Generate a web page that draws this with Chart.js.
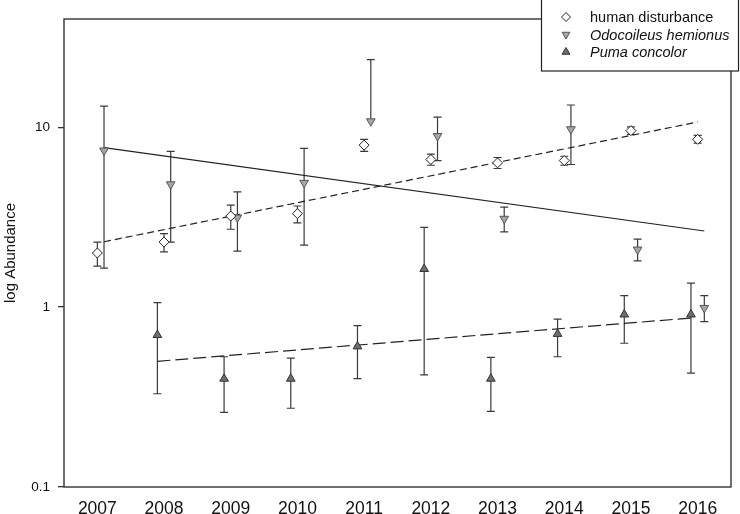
<!DOCTYPE html>
<html lang="en">
<head>
    <meta charset="UTF-8">
    <title>log Abundance</title>
    <script src="https://cdn.jsdelivr.net/npm/chart.js"></script>
    <style>
        body { margin: 0; background: #fff; }
        canvas { display: block; }
    </style>
</head>
<body>
    <canvas id="abundanceChart" width="740" height="514"></canvas>

    <script>
        // values (means with error bars)
        const years = [2007, 2008, 2009, 2010, 2011, 2012, 2013, 2014, 2015, 2016];
        const humanMean = [2.0, 2.3, 3.21, 3.31, 7.96, 6.62, 6.34, 6.53, 9.58, 8.57];
        const humanLow = [1.69, 2.03, 2.71, 2.94, 7.34, 6.15, 5.9, 6.15, 9.14, 8.17];
        const humanHigh = [2.3, 2.56, 3.69, 3.65, 8.57, 7.1, 6.79, 6.9, 10.04, 9.02];

        const deerMean = [7.43, 4.82, 3.15, 4.91, 10.8, 8.94, 3.1, 9.75, 2.09, 0.99];
        const deerLow = [1.65, 2.3, 2.05, 2.21, null, 6.52, 2.62, 6.21, 1.81, 0.83];
        const deerHigh = [13.1, 7.34, 4.37, 7.63, 23.8, 11.4, 3.6, 13.3, 2.39, 1.16];

        const pumaYears = [2008, 2009, 2010, 2011, 2012, 2013, 2014, 2015, 2016];
        const pumaMean = [0.7, 0.4, 0.4, 0.605, 1.63, 0.4, 0.71, 0.91, 0.91];
        const pumaLow = [0.33, 0.26, 0.274, 0.4, 0.42, 0.263, 0.53, 0.63, 0.43];
        const pumaHigh = [1.06, 0.53, 0.52, 0.79, 2.78, 0.525, 0.857, 1.16, 1.36];

        // fitted trend lines (end points)
        const humanTrendX = [2007.1, 2016];
        const humanTrendY = [2.31, 10.7];
        const deerTrendX = [2007.1, 2016.1];
        const deerTrendY = [7.7, 2.65];
        const pumaTrendX = [2007.9, 2015.9];
        const pumaTrendY = [0.5, 0.87];

        const yTicks = [0.1, 1, 10];

        // series are drawn side by side around each year
        const deerShift = 0.1;
        const pumaShift = -0.1;

        const FONT = "Arial, 'Liberation Sans', sans-serif";

        const pts = (xs, ys, shift) => xs.map((x, i) => ({ x: x + shift, y: ys[i] }));

        const errorSets = [
            { xs: years, shift: 0, mean: humanMean, low: humanLow, high: humanHigh },
            { xs: years, shift: deerShift, mean: deerMean, low: deerLow, high: deerHigh },
            { xs: pumaYears, shift: pumaShift, mean: pumaMean, low: pumaLow, high: pumaHigh }
        ];

        // error bars + frame
        const errorBars = {
            id: 'errorBars',
            beforeDatasetsDraw(chart) {
                const ctx = chart.ctx;
                const xs = chart.scales.x, ys = chart.scales.y;
                const a = chart.chartArea;
                ctx.save();
                ctx.strokeStyle = '#333';
                ctx.lineWidth = 1.4;
                ctx.strokeRect(a.left, a.top, a.right - a.left, a.bottom - a.top);

                ctx.strokeStyle = '#3a3a3a';
                ctx.lineWidth = 1.2;
                const cap = 4;
                errorSets.forEach(s => {
                    s.xs.forEach((yr, i) => {
                        const px = xs.getPixelForValue(yr + s.shift);
                        const hi = ys.getPixelForValue(s.high[i]);
                        const mid = ys.getPixelForValue(s.mean[i]);
                        const lo = s.low[i] == null ? mid : ys.getPixelForValue(s.low[i]);
                        ctx.beginPath();
                        ctx.moveTo(px, hi);
                        ctx.lineTo(px, lo);
                        ctx.moveTo(px - cap, hi);
                        ctx.lineTo(px + cap, hi);
                        if (s.low[i] != null) {
                            ctx.moveTo(px - cap, lo);
                            ctx.lineTo(px + cap, lo);
                        }
                        ctx.stroke();
                    });
                });
                ctx.restore();
            }
        };

        // boxed legend in the top right corner
        const boxLegend = {
            id: 'boxLegend',
            afterDraw(chart) {
                const ctx = chart.ctx;
                ctx.save();
                ctx.fillStyle = '#fff';
                ctx.fillRect(541, -1, 198, 72);
                ctx.strokeStyle = '#222';
                ctx.lineWidth = 1.2;
                ctx.strokeRect(541.5, -1, 197, 72);

                const rows = [
                    { text: 'human disturbance', italic: false, style: 'rectRot', rot: 0, fill: '#fff', border: '#222' },
                    { text: 'Odocoileus hemionus', italic: true, style: 'triangle', rot: 180, fill: '#a6a6a6', border: '#555' },
                    { text: 'Puma concolor', italic: true, style: 'triangle', rot: 0, fill: '#6e6e6e', border: '#333' }
                ];
                rows.forEach((row, i) => {
                    const y = 17 + i * 17.5;
                    ctx.fillStyle = row.fill;
                    ctx.strokeStyle = row.border;
                    ctx.lineWidth = 1;
                    Chart.helpers.drawPoint(ctx, { pointStyle: row.style, rotation: row.rot, radius: 4.5, borderWidth: 1 }, 566, y);
                    ctx.fillStyle = '#111';
                    ctx.font = (row.italic ? 'italic ' : '') + '14.5px ' + FONT;
                    ctx.textBaseline = 'middle';
                    ctx.textAlign = 'left';
                    ctx.fillText(row.text, 590, y + 1);
                });
                ctx.restore();
            }
        };

        const ctx = document.getElementById('abundanceChart').getContext('2d');
        const chart = new Chart(ctx, {
            type: 'scatter',
            data: {
                datasets: [
                    {
                        label: 'human disturbance',
                        data: pts(years, humanMean, 0),
                        pointStyle: 'rectRot',
                        pointRadius: 5,
                        backgroundColor: '#fff',
                        borderColor: '#222',
                        borderWidth: 1,
                        order: 1
                    },
                    {
                        label: 'Odocoileus hemionus',
                        data: pts(years, deerMean, deerShift),
                        pointStyle: 'triangle',
                        rotation: 180,
                        pointRadius: 5,
                        backgroundColor: '#a6a6a6',
                        borderColor: '#555',
                        borderWidth: 1,
                        order: 1
                    },
                    {
                        label: 'Puma concolor',
                        data: pts(pumaYears, pumaMean, pumaShift),
                        pointStyle: 'triangle',
                        pointRadius: 5,
                        backgroundColor: '#6e6e6e',
                        borderColor: '#333',
                        borderWidth: 1,
                        order: 1
                    },
                    {
                        label: 'human trend',
                        data: pts(humanTrendX, humanTrendY, 0),
                        showLine: true,
                        pointRadius: 0,
                        borderColor: '#222',
                        borderWidth: 1.2,
                        borderDash: [7, 4],
                        order: 3
                    },
                    {
                        label: 'deer trend',
                        data: pts(deerTrendX, deerTrendY, 0),
                        showLine: true,
                        pointRadius: 0,
                        borderColor: '#222',
                        borderWidth: 1.2,
                        order: 3
                    },
                    {
                        label: 'puma trend',
                        data: pts(pumaTrendX, pumaTrendY, 0),
                        showLine: true,
                        pointRadius: 0,
                        borderColor: '#222',
                        borderWidth: 1.2,
                        borderDash: [13, 5],
                        order: 3
                    }
                ]
            },
            options: {
                responsive: false,
                animation: false,
                layout: { padding: { left: 2, right: 9, top: 19, bottom: 0 } },
                plugins: {
                    legend: { display: false },
                    tooltip: { enabled: false }
                },
                scales: {
                    x: {
                        type: 'linear',
                        min: 2006.5,
                        max: 2016.5,
                        afterBuildTicks: axis => { axis.ticks = years.map(v => ({ value: v })); },
                        afterFit: scale => { scale.height = 27; },
                        grid: { display: false },
                        border: { display: false },
                        ticks: {
                            autoSkip: false,
                            maxRotation: 0,
                            padding: 4,
                            color: '#111',
                            font: { family: FONT, size: 17.5 },
                            callback: v => String(v)
                        }
                    },
                    y: {
                        type: 'logarithmic',
                        min: 0.1,
                        max: 40,
                        afterBuildTicks: axis => { axis.ticks = yTicks.map(v => ({ value: v })); },
                        afterFit: scale => { scale.width = 62; },
                        grid: {
                            drawOnChartArea: false,
                            drawTicks: true,
                            tickLength: 6,
                            color: '#333',
                            lineWidth: 1.3
                        },
                        border: { display: false },
                        title: {
                            display: true,
                            text: 'log Abundance',
                            color: '#111',
                            padding: 0,
                            font: { family: FONT, size: 15 }
                        },
                        ticks: {
                            padding: 8,
                            color: '#111',
                            font: { family: FONT, size: 13.5 },
                            callback: v => String(v)
                        }
                    }
                }
            },
            plugins: [errorBars, boxLegend]
        });
    </script>
</body>
</html>
